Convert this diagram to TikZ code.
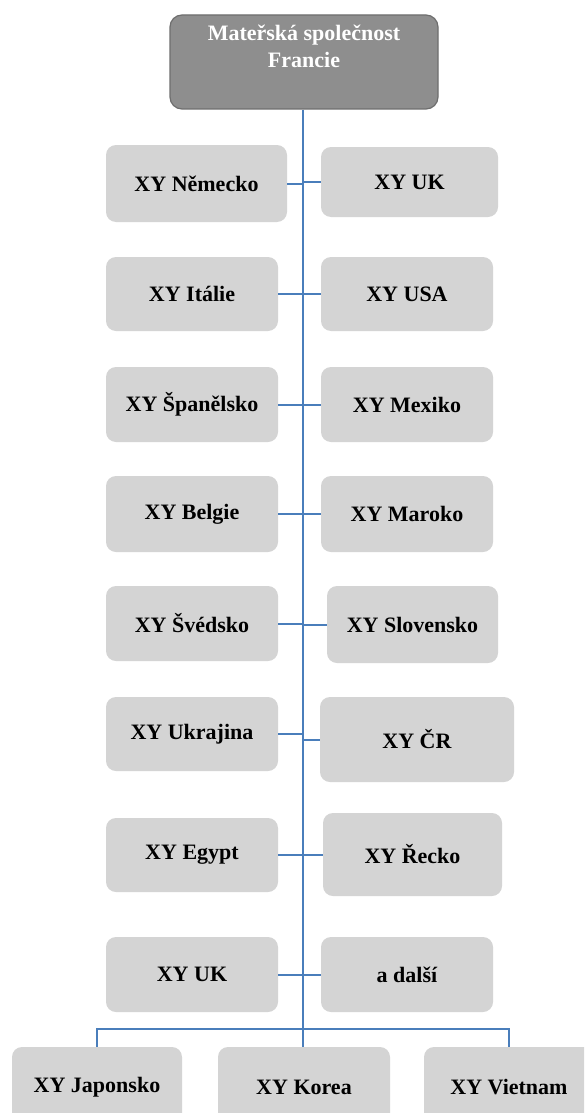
\documentclass[tikz,border=0pt]{standalone}
\usepackage{fontspec}
\setmainfont{Liberation Serif}
\usepackage{tikz}
\usetikzlibrary{calc}
\definecolor{orgblue}{HTML}{4A7EBB}
\definecolor{orggray}{HTML}{D4D4D4}
\definecolor{orgdark}{HTML}{8E8E8E}
\definecolor{orgedge}{HTML}{6E6E6E}

\begin{document}
\begin{tikzpicture}[x=0.5pt, y=-0.5pt,
  cbox/.style 2 args={fill=orggray, rounded corners=5pt, inner sep=0pt,
    minimum width=#1*0.5pt, minimum height=#2*0.5pt,
    font=\fontsize{11pt}{13.5pt}\selectfont\bfseries},
  topbox/.style={fill=orgdark, draw=orgedge, line width=0.6pt, rounded corners=6pt,
    minimum width=134pt, minimum height=47pt},
  spine/.style={orgblue, line width=1.4pt},
  link/.style={orgblue, line width=1pt}]
\clip (0,0) rectangle (584,1113);
\fill[white] (0,0) rectangle (584,1113);

\node[topbox] (mat) at (304,62) {};
\node[text=white, align=center, font=\fontsize{11pt}{13.5pt}\selectfont\bfseries]
  (matname) at (304,46) {Mateřská společnost\\Francie};
\coordinate (busmid) at (303,1029);

\node[cbox={181}{77}] (nem) at (196.5,183.5) {XY Německo};
\node[cbox={177}{70}] (uk) at (409.5,182) {XY UK};
\node[cbox={172}{74}] (ita) at (192,294) {XY Itálie};
\node[cbox={172}{74}] (usa) at (407,294) {XY USA};
\node[cbox={172}{75}] (spa) at (192,404.5) {XY Španělsko};
\node[cbox={172}{75}] (mex) at (407,404.5) {XY Mexiko};
\node[cbox={172}{76}] (bel) at (192,514) {XY Belgie};
\node[cbox={172}{76}] (mar) at (407,514) {XY Maroko};
\node[cbox={172}{75}] (sve) at (192,623.5) {XY Švédsko};
\node[cbox={171}{77}] (svk) at (412.5,624.5) {XY Slovensko};
\node[cbox={172}{74}] (ukr) at (192,734) {XY Ukrajina};
\node[cbox={194}{85}] (cr) at (417,739.5) {XY ČR};
\node[cbox={172}{74}] (egy) at (192,855) {XY Egypt};
\node[cbox={179}{83}] (rec) at (412.5,854.5) {XY Řecko};
\node[cbox={172}{75}] (ukd) at (192,974.5) {XY UK};
\node[cbox={172}{75}] (dal) at (407,974.5) {a další};

\node[cbox={170}{80}] (jap) at (97,1087) {XY Japonsko};
\node[cbox={172}{80}] (kor) at (304,1087) {XY Korea};
\node[cbox={170}{80}] (vie) at (509,1087) {XY Vietnam};

\draw[spine] (mat.south -| busmid) -- (busmid);

\draw[link] (nem.east) -- (nem.east -| busmid);
\draw[link] (uk.west) -- (uk.west -| busmid);
\draw[link] (ita.east) -- (ita.east -| busmid);
\draw[link] (usa.west) -- (usa.west -| busmid);
\draw[link] (spa.east) -- (spa.east -| busmid);
\draw[link] (mex.west) -- (mex.west -| busmid);
\draw[link] (bel.east) -- (bel.east -| busmid);
\draw[link] (mar.west) -- (mar.west -| busmid);
\draw[link] (sve.east) -- (sve.east -| busmid);
\draw[link] (svk.west) -- (svk.west -| busmid);
\draw[link] (ukr.east) -- (ukr.east -| busmid);
\draw[link] (cr.west) -- (cr.west -| busmid);
\draw[link] (egy.east) -- (egy.east -| busmid);
\draw[link] (rec.west) -- (rec.west -| busmid);
\draw[link] (ukd.east) -- (ukd.east -| busmid);
\draw[link] (dal.west) -- (dal.west -| busmid);

\draw[link] (jap.north) -- (jap.north |- busmid) -- (vie.north |- busmid) -- (vie.north);
\draw[link] (busmid) -- (kor.north -| busmid);
\end{tikzpicture}
\end{document}
